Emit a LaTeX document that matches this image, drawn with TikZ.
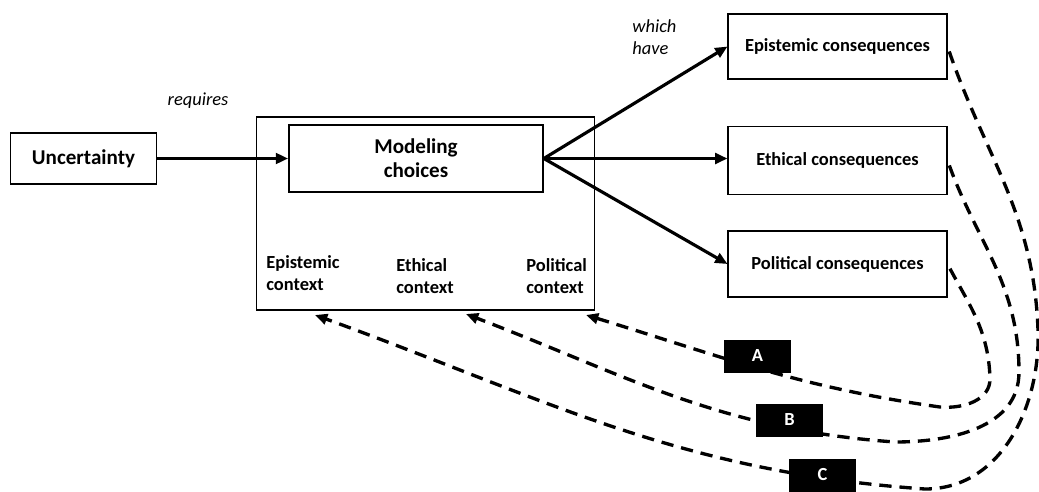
\documentclass[tikz,border=0pt]{standalone}
\usepackage{fontspec}
\setmainfont{Carlito}
\usetikzlibrary{arrows.meta, positioning}
\tikzset{
    box/.style={draw=black, line width=0.6pt, fill=white, align=center, font=\bfseries\fontsize{10.5}{12.5}\selectfont},
    ctxlabel/.style={align=left, anchor=west, inner sep=0pt, font=\bfseries\fontsize{10.5}{12.5}\selectfont},
    note/.style={align=left, inner sep=0pt, font=\itshape\fontsize{10.5}{12.5}\selectfont},
    letterbox/.style={fill=black, text=white, minimum width=1.34cm, minimum height=0.66cm, inner sep=0pt, font=\bfseries\fontsize{10.5}{12.5}\selectfont},
    arrow/.style={-{Triangle[length=7pt, width=6pt]}, line width=1.8pt},
    dasharrow/.style={-{Triangle[length=7pt, width=6pt]}, line width=1.9pt, dash pattern=on 7pt off 4.5pt, shorten <=3pt}
}
\begin{document}
\begin{tikzpicture}[x=0.02cm, y=-0.02cm]
        \useasboundingbox (0,0) rectangle (1039,491);
        % left part
        \node [box, minimum width=2.92cm, minimum height=1.02cm, font=\bfseries\fontsize{12}{14}\selectfont] (unc) at (83.5,158.5) {Uncertainty};
        \node [draw, line width=0.6pt, minimum width=6.78cm, minimum height=3.86cm] (ctx) at (425.5,213.5) {};
        \node [box, line width=1pt, minimum width=5.08cm, minimum height=1.34cm, font=\bfseries\fontsize{12}{14}\selectfont] (model) at (416,158.5) {Modeling\\[-0.5pt]choices};
        \node [ctxlabel] (ctxepi) at (266,273.5) {Epistemic\\context};
        \node [ctxlabel] (ctxeth) at (396,276) {Ethical\\context};
        \node [ctxlabel] (ctxpol) at (526,276) {Political\\context};
        \node [note] (req) at (198,101) {requires};
        \node [note, anchor=west] (have) at (632,37.5) {which\\have};
        % consequences
        \node [box, minimum width=4.38cm, minimum height=1.3cm] (epi) at (837.5,46.5) {Epistemic consequences};
        \node [box, minimum width=4.38cm, minimum height=1.36cm] (eth) at (837.5,160.5) {Ethical consequences};
        \node [box, minimum width=4.38cm, minimum height=1.32cm] (pol) at (837.5,264) {Political consequences};
        \draw [arrow] (unc.east) -- (unc.east -| model.west);
        \draw [arrow] (model.east) -- (epi.west);
        \draw [arrow] (model.east) -- (eth.west |- model.east);
        \draw [arrow] (model.east) -- (pol.west);
        % feedback loops
        \coordinate (tipA) at (586,315);
        \coordinate (tipB) at (466,314);
        \coordinate (tipC) at (315,315);
        \draw [dasharrow] (pol.east) to[out=-62, in=92] (990,378) to[out=-88, in=-5] (940,407) to[out=172, in=-17] (tipA);
        \draw [dasharrow] (eth.east) to[out=-70, in=90] (1019,372) to[out=-90, in=0] (895,442) to[out=176, in=-21] (tipB);
        \draw [dasharrow] (epi.east) to[out=-71, in=92] (1038,330) to[out=-88, in=0] (925,489) to[out=176, in=-20] (tipC);
        \node [letterbox] (lblA) at (757.5,356) {A};
        \node [letterbox] (lblB) at (789.5,420) {B};
        \node [letterbox] (lblC) at (822.5,475) {C};
    \end{tikzpicture}
\end{document}
